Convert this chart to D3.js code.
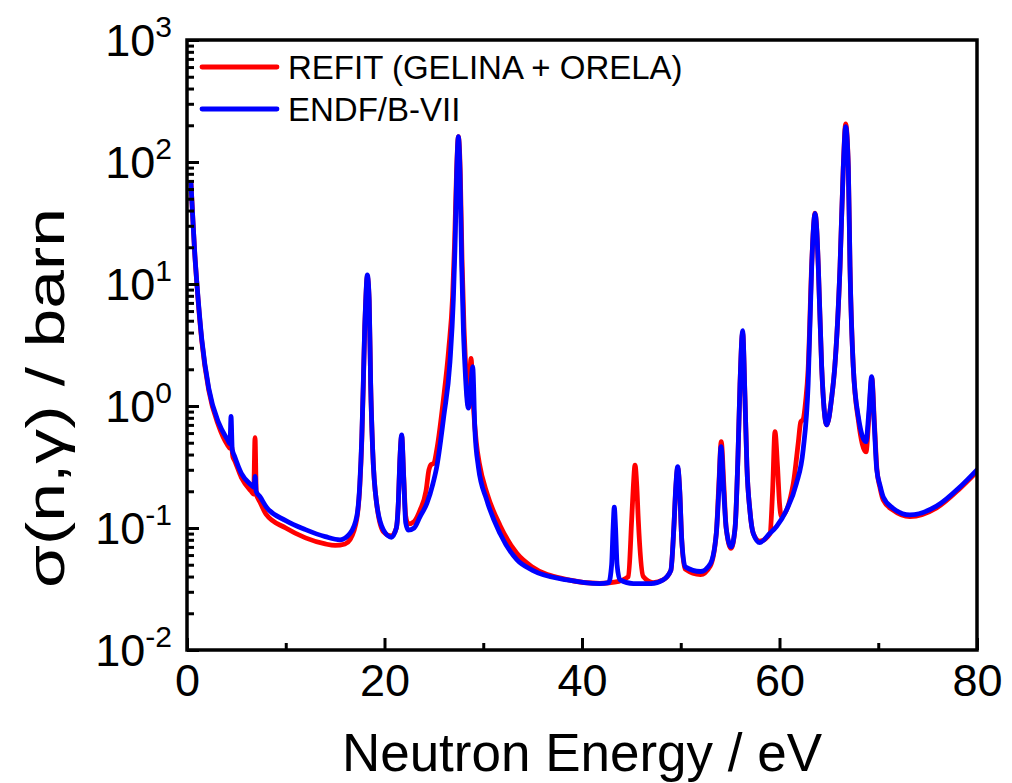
<!DOCTYPE html>
<html>
<head>
<meta charset="utf-8">
<script src="https://cdn.jsdelivr.net/npm/d3@7"></script>
<style>
  html, body { margin: 0; padding: 0; background: #fff; }
  svg { display: block; font-family: "Liberation Sans", Arial, Helvetica, sans-serif; }
</style>
</head>
<body>
<svg id="chart" width="1012" height="783"></svg>
<script>
// ---------------- data ----------------
const seriesNames = ["REFIT (GELINA + ORELA)", "ENDF/B-VII"];
const seriesColors = ["#ff0000", "#0000ff"];

// REFIT (GELINA + ORELA): neutron energy (eV) and capture cross section (barn)
const refitEnergy = [0.4,0.6,0.8,1.0,1.5,2.2,3.2,4.1,4.35,4.5,4.65,4.8,5.5,6.5,6.75,6.89,7.02,7.4,8,10,12,14,15,16,16.5,17.2,17.5,17.7,17.85,18.0,18.1,18.26,18.45,18.6,18.8,19.2,19.9,20.7,21.2,21.4,21.55,21.74,21.95,22.15,22.4,23,23.6,24.2,24.5,24.7,25.0,25.3,25.96,26.5,26.9,27.1,27.3,27.48,27.67,27.85,28.05,28.2,28.5,28.76,29.0,29.3,29.6,30.4,31.7,33.4,35,38.5,41.8,43.3,44.7,45.03,45.2,45.37,45.55,45.7,46.2,47.2,48.2,49.0,49.3,49.5,49.69,49.9,50.1,50.45,52,53,53.6,53.85,54.1,54.37,54.6,55.1,55.5,55.8,56.0,56.27,56.5,56.7,57.0,57.35,58,59.04,59.3,59.54,59.8,60.0,60.2,61.4,61.9,62.15,62.4,62.65,62.9,63.26,63.43,63.6,63.77,63.93,64.27,64.78,65.3,65.6,66.13,66.46,66.7,66.97,67.14,67.47,68.0,68.76,69.05,69.35,69.62,69.87,70.2,70.5,71.5,73.2,75.9,78.3,80];
const refitSigma  = [68,33,17,10,3.4,1.35,0.69,0.48,0.45,0.47,0.38,0.36,0.26,0.2,0.19,0.55,0.19,0.163,0.13,0.1,0.083,0.074,0.072,0.074,0.08,0.12,0.22,0.52,1.45,4.4,7.2,11.5,7.2,1.5,0.44,0.16,0.093,0.086,0.1,0.16,0.35,0.57,0.26,0.125,0.108,0.113,0.14,0.2,0.3,0.33,0.34,0.44,1.12,2.9,8,22,85,161,85,16,4.4,2.3,1.0,2.46,1.0,0.5,0.34,0.19,0.105,0.062,0.0477,0.0378,0.0352,0.036,0.04,0.117,0.22,0.328,0.22,0.117,0.04,0.0357,0.0375,0.045,0.1,0.21,0.31,0.2,0.08,0.046,0.0415,0.049,0.09,0.22,0.51,0.22,0.1,0.068,0.1,0.4,1.5,4.0,1.2,0.32,0.14,0.09,0.078,0.09,0.2,0.615,0.318,0.16,0.124,0.232,0.5,0.74,0.78,1.1,2.0,14.5,28,38,28,13.9,2.1,0.7,1.2,2.1,13.9,92,205,92,13.9,2.1,0.75,0.42,0.8,1.7,0.7,0.3,0.21,0.17,0.14,0.124,0.146,0.212,0.29];

// ENDF/B-VII
const endfEnergy = [0.4,0.6,0.8,1.0,1.5,2.2,3.2,4.1,4.35,4.46,4.58,4.8,5.5,6.5,6.8,6.9,7.0,7.4,8,10,12,14,15.5,16.5,17.2,17.5,17.7,17.85,18.0,18.1,18.26,18.45,18.6,18.8,19.2,19.9,20.7,21.2,21.4,21.55,21.74,21.95,22.15,22.4,23,23.6,24.3,24.9,25.3,26.0,26.63,26.97,27.14,27.31,27.48,27.65,27.82,28.0,28.15,28.5,28.7,28.93,29.15,29.5,30.35,31.7,33.4,35,38.5,41.8,42.7,43.0,43.15,43.27,43.4,43.55,43.85,45.2,47,48.2,49.0,49.3,49.5,49.69,49.9,50.1,50.45,52,53,53.6,53.85,54.08,54.35,54.6,55.1,55.5,55.8,56.0,56.27,56.5,56.7,57.0,57.35,58,59,59.7,60.7,61.7,62.4,62.9,63.26,63.43,63.6,63.77,63.93,64.27,64.78,65.3,65.6,66.13,66.46,66.7,66.97,67.14,67.47,68.0,68.76,69.05,69.33,69.6,69.85,70.2,70.5,71.5,73.2,75.9,78.3,80];
const endfSigma  = [67,33,17,10.2,3.5,1.4,0.73,0.53,0.49,0.82,0.44,0.39,0.28,0.225,0.215,0.265,0.2,0.18,0.15,0.115,0.097,0.085,0.08,0.09,0.125,0.23,0.55,1.5,4.5,7.4,11.9,7.4,1.5,0.44,0.16,0.096,0.084,0.1,0.16,0.35,0.58,0.25,0.11,0.096,0.1,0.124,0.16,0.23,0.32,0.82,2.3,7.4,20,80,161,80,14,4,2.1,0.96,1.3,2.1,0.65,0.32,0.17,0.09,0.055,0.045,0.0375,0.035,0.0357,0.05,0.1,0.148,0.1,0.05,0.0375,0.035,0.035,0.0375,0.045,0.1,0.22,0.318,0.2,0.08,0.048,0.044,0.051,0.09,0.2,0.465,0.2,0.1,0.07,0.1,0.4,1.5,4.14,1.2,0.32,0.14,0.09,0.076,0.09,0.103,0.14,0.23,0.44,1.5,13.9,28,37.9,28,13.9,2.1,0.7,1.2,2.1,13.9,90,195,90,13.9,2.1,0.8,0.51,0.9,1.74,0.7,0.3,0.22,0.18,0.145,0.128,0.151,0.218,0.3];

const xMajorTicks = [0, 20, 40, 60, 80];
const xMinorTicks = [10, 30, 50, 70];
const yExponents = [-2, -1, 0, 1, 2, 3];
const xTitle = "Neutron Energy / eV";
const yTitle = "σ(n,γ) / barn";

// ---------------- layout ----------------
const W = 1012, H = 783;
const m = { left: 187, right: 35, top: 40, bottom: 133 };
const pw = W - m.left - m.right, ph = H - m.top - m.bottom;

const svg = d3.select("#chart");
const x = d3.scaleLinear().domain([0, 80]).range([m.left, m.left + pw]);
const y = d3.scaleLog().domain([0.01, 1000]).range([m.top + ph, m.top]);

svg.append("defs").append("clipPath").attr("id", "clip")
  .append("rect").attr("x", m.left).attr("y", m.top).attr("width", pw).attr("height", ph);

// curves
const line = d3.line().x(d => x(d[0])).y(d => y(d[1])).curve(d3.curveMonotoneX);
const series = [
  d3.zip(refitEnergy, refitSigma),
  d3.zip(endfEnergy, endfSigma)
];
const g = svg.append("g").attr("clip-path", "url(#clip)");
series.forEach((pts, i) => {
  g.append("path").datum(pts)
    .attr("d", line)
    .attr("fill", "none")
    .attr("stroke", seriesColors[i])
    .attr("stroke-width", 4.8)
    .attr("stroke-linejoin", "round")
    .attr("stroke-linecap", "round");
});

// axes
const yMinor = [];
yExponents.slice(0, -1).forEach(e => { for (let k = 2; k <= 9; k++) yMinor.push(k * Math.pow(10, e)); });
const yMajor = yExponents.map(e => Math.pow(10, e));

const xAxisMajor = d3.axisBottom(x).tickValues(xMajorTicks).tickSize(-12).tickPadding(14).tickFormat(d3.format("d"));
const xAxisMinor = d3.axisBottom(x).tickValues(xMinorTicks).tickSize(-7).tickFormat("");
const yAxisMajor = d3.axisLeft(y).tickValues(yMajor).tickSize(-12).tickFormat("");
const yAxisMinor = d3.axisLeft(y).tickValues(yMinor).tickSize(-7).tickFormat("");

function styleAxis(sel) {
  sel.select(".domain").remove();
  sel.selectAll(".tick line").attr("stroke", "#000").attr("stroke-width", 3);
}
svg.append("g").attr("transform", `translate(0,${m.top + ph})`).call(xAxisMajor).call(styleAxis)
  .selectAll("text").attr("font-size", 45).attr("fill", "#000").attr("font-family", "Liberation Sans, Arial, sans-serif");
svg.append("g").attr("transform", `translate(0,${m.top + ph})`).call(xAxisMinor).call(styleAxis);
svg.append("g").attr("transform", `translate(${m.left},0)`).call(yAxisMajor).call(styleAxis);
svg.append("g").attr("transform", `translate(${m.left},0)`).call(yAxisMinor).call(styleAxis);

// y tick labels 10^n
const yl = svg.append("g").selectAll("text").data(yExponents).join("text")
  .attr("x", m.left - 15)
  .attr("y", d => y(Math.pow(10, d)) + 16)
  .attr("text-anchor", "end")
  .attr("font-size", 45)
  .attr("fill", "#000");
yl.append("tspan").text("10");
yl.append("tspan").attr("dy", -19).attr("font-size", 30).text(d => d < 0 ? "-" + Math.abs(d) : d);

// frame
svg.append("rect").attr("x", m.left).attr("y", m.top).attr("width", pw).attr("height", ph)
  .attr("fill", "none").attr("stroke", "#000").attr("stroke-width", 3.5);

// titles
svg.append("text").attr("x", m.left + pw / 2).attr("y", 771).attr("text-anchor", "middle")
  .attr("font-size", 53).attr("fill", "#000").text(xTitle);
svg.append("text").attr("transform", `translate(64,398) rotate(-90)`).attr("text-anchor", "middle")
  .attr("font-size", 54).attr("fill", "#000")
  .attr("textLength", 380).attr("lengthAdjust", "spacingAndGlyphs").text(yTitle);

// legend
const leg = svg.append("g");
seriesNames.forEach((name, i) => {
  const ly = 67 + i * 42;
  leg.append("line").attr("x1", 202).attr("x2", 277).attr("y1", ly).attr("y2", ly)
    .attr("stroke", seriesColors[i]).attr("stroke-width", 4.8).attr("stroke-linecap", "round");
  leg.append("text").attr("x", 288).attr("y", ly + 12).attr("font-size", 33).attr("fill", "#000").text(name);
});
</script>
</body>
</html>
